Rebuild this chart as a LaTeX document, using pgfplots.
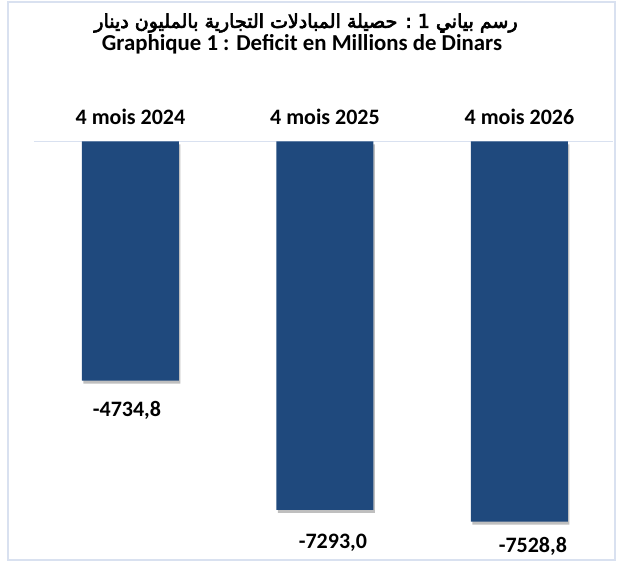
\documentclass[border=0pt]{standalone}
\usepackage{fontspec}
\setmainfont{Carlito}
\newfontfamily\arabicfont[Script=Arabic,FakeBold=3.5]{DejaVu Sans}
\TeXXeTstate=1
\usepackage{pgfplots}
\usepackage{pgfplotstable}
\pgfplotsset{compat=1.18}
\usetikzlibrary{shadows}
\definecolor{barblue}{RGB}{31,73,125}
\definecolor{frameblue}{RGB}{217,225,240}

\pgfplotstableread{
x y
0 -4734.8
1 -7293.0
2 -7528.8
}\bars
\pgfplotstableread{
x y label
-0.018 -5317 -4734,8
1.041 -7950 -7293,0
2.069 -8010 -7528,8
}\vlabels

\begin{document}
\begin{tikzpicture}
\useasboundingbox (0pt,0pt) rectangle (619pt,562pt);
\draw[frameblue, line width=1.5pt] (8pt,2pt) rectangle (615pt,560pt);
\node[font=\arabicfont\fontsize{19}{22}\selectfont, inner sep=0pt] at (306pt,539pt) {\beginR رسم بياني 1 :  حصيلة المبادلات التجارية بالمليون دينار\endR};
\node[font=\bfseries\fontsize{22.8}{26}\selectfont, inner sep=0pt] at (302pt,518pt) {Graphique 1 : Deficit en Millions de Dinars};
\begin{axis}[
  at={(34pt,7pt)}, anchor=south west, scale only axis,
  width=579pt, height=413.5pt,
  xmin=-0.496, xmax=2.481, ymin=-8188, ymax=0,
  axis x line*=top, axis y line=none,
  x axis line style={frameblue, line width=1.5pt, -},
  xtick={0,1,2}, xticklabels={4 mois 2024, 4 mois 2025, 4 mois 2026},
  major tick length=0pt,
  xticklabel style={font=\bfseries\fontsize{22}{26}\selectfont, anchor=base, yshift=16.5pt, inner sep=0pt},
  ytick=\empty, clip=false, bar width=97pt,
]
\addplot[ybar, fill=barblue, draw=none, drop shadow={shadow xshift=1.5pt, shadow yshift=-3pt, fill=black, opacity=0.25}] table[x=x,y=y]{\bars};
\addplot[draw=none, mark=none, nodes near coords, point meta=explicit symbolic,
  nodes near coords style={anchor=center, inner sep=0pt, font=\bfseries\fontsize{22}{26}\selectfont}]
  table[x=x,y=y,meta=label]{\vlabels};
\end{axis}
\end{tikzpicture}
\end{document}
